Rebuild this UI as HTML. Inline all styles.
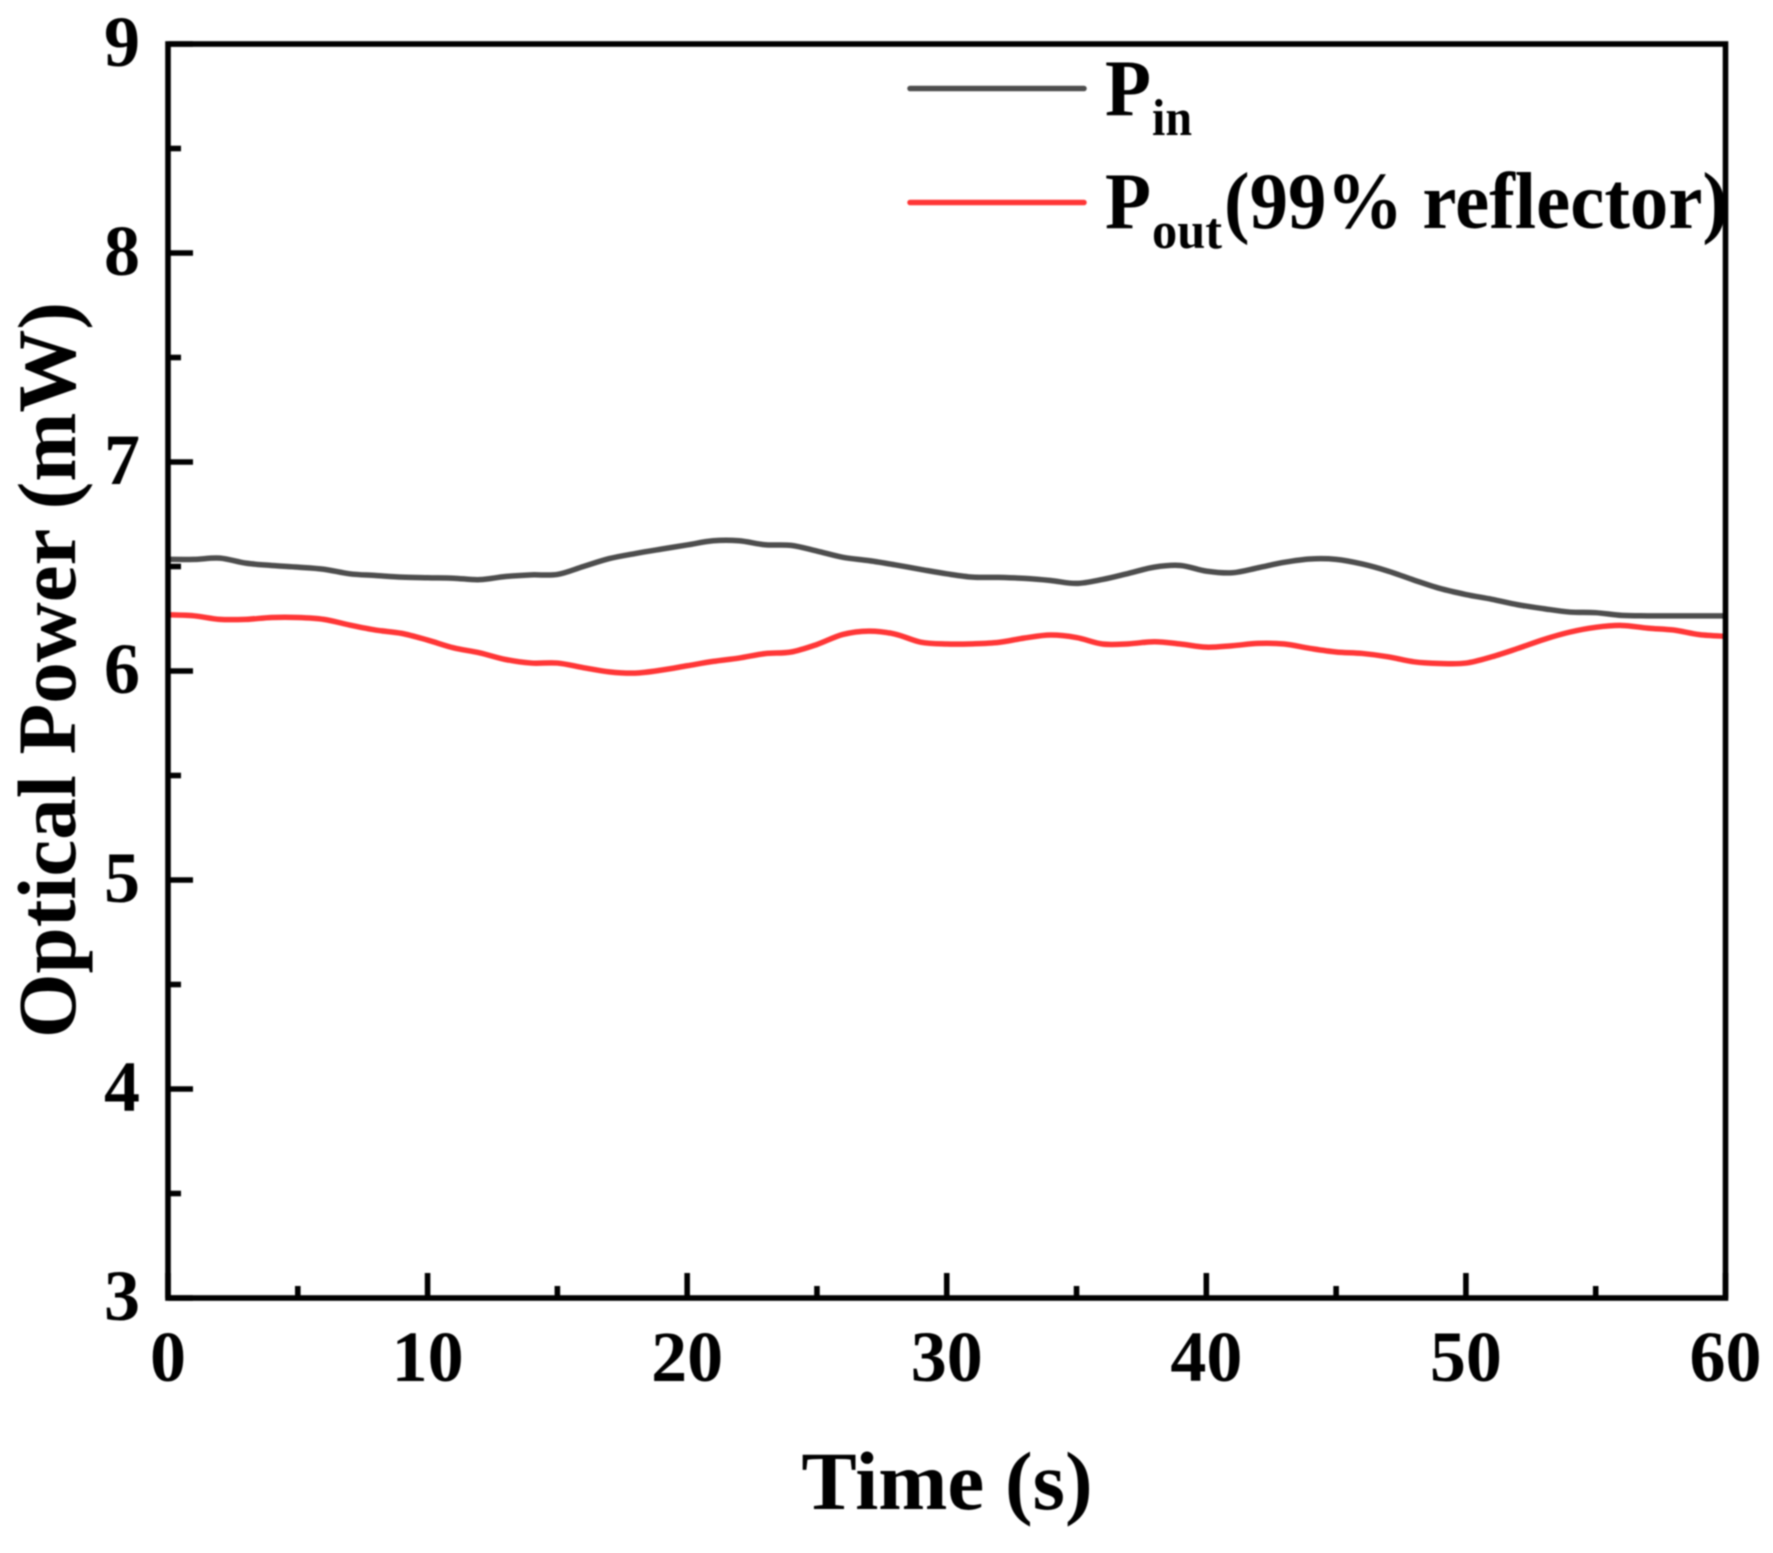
<!DOCTYPE html>
<html lang="en">
<head>
<meta charset="utf-8">
<title>Optical Power vs Time</title>
<style>
html,body{margin:0;padding:0;background:#fff;width:1773px;height:1553px;overflow:hidden}
svg{display:block;filter:blur(0.7px)}
text{font-family:"Liberation Serif","Times New Roman",serif;font-weight:bold;fill:#000}
</style>
</head>
<body>
<svg id="chart" xmlns="http://www.w3.org/2000/svg" width="1773" height="1553" viewBox="0 0 1773 1553">
  <rect x="0" y="0" width="1773" height="1553" fill="#fff"/>
  <g id="series"></g>
  <g id="ticks"></g>
  <rect x="168" y="44" width="1557.5" height="1254" fill="none" stroke="#000" stroke-width="5.6"/>
  <g id="labels"></g>
  <text x="947" y="1509" font-size="83" text-anchor="middle">Time (s)</text>
  <text x="75" y="670" font-size="83" text-anchor="middle" transform="rotate(-90 75 670)">Optical Power (mW)</text>
  <g>
    <line x1="910" y1="88.5" x2="1084" y2="88.5" stroke="#4d4d4d" stroke-width="5.5" stroke-linecap="round"/>
    <text x="1105" y="115" font-size="80" textLength="46" lengthAdjust="spacingAndGlyphs">P</text>
    <text x="1152" y="135" font-size="52" textLength="40" lengthAdjust="spacingAndGlyphs">in</text>
    <line x1="910" y1="202.5" x2="1084" y2="202.5" stroke="#ff3636" stroke-width="5.5" stroke-linecap="round"/>
    <text x="1105" y="228" font-size="80" textLength="46" lengthAdjust="spacingAndGlyphs">P</text>
    <text x="1152" y="248" font-size="52" textLength="70" lengthAdjust="spacingAndGlyphs">out</text>
    <text x="1224" y="228" font-size="80" textLength="504" lengthAdjust="spacingAndGlyphs">(99% reflector)</text>
  </g>
</svg>
<script>
const timeSeconds = [0,1,2,3,4,5,6,7,8,9,10,11,12,13,14,15,16,17,18,19,20,21,22,23,24,25,26,27,28,29,30,31,32,33,34,35,36,37,38,39,40,41,42,43,44,45,46,47,48,49,50,51,52,53,54,55,56,57,58,59,60];
const pinValues = [6.534,6.534,6.54,6.516,6.505,6.497,6.487,6.465,6.457,6.449,6.446,6.444,6.437,6.452,6.46,6.462,6.5,6.538,6.562,6.583,6.603,6.623,6.623,6.604,6.601,6.574,6.544,6.528,6.508,6.486,6.465,6.449,6.448,6.443,6.433,6.419,6.438,6.467,6.497,6.505,6.478,6.47,6.494,6.52,6.536,6.534,6.512,6.478,6.435,6.395,6.366,6.343,6.317,6.298,6.282,6.279,6.266,6.264,6.264,6.264,6.264];
const poutValues = [6.269,6.264,6.247,6.247,6.256,6.256,6.247,6.22,6.196,6.18,6.148,6.111,6.087,6.055,6.038,6.038,6.016,5.996,5.99,6.004,6.025,6.046,6.062,6.083,6.091,6.127,6.175,6.191,6.177,6.138,6.129,6.13,6.137,6.158,6.172,6.16,6.129,6.13,6.14,6.129,6.114,6.121,6.132,6.129,6.108,6.091,6.084,6.068,6.044,6.036,6.038,6.068,6.108,6.151,6.186,6.209,6.218,6.205,6.196,6.174,6.166];
const xMajorTicks = [0,10,20,30,40,50,60];
const xMinorTicks = [5,15,25,35,45,55];
const yMajorTicks = [3,4,5,6,7,8,9];
const yMinorTicks = [3.5,4.5,5.5,6.5,7.5,8.5];

const SVG_NS = 'http://www.w3.org/2000/svg';
const plot = {left:168, right:1725.5, top:44, bottom:1298};
const domain = {xMin:0, xMax:60, yMin:3, yMax:9};
function xScale(v){ return plot.left + (v - domain.xMin) / (domain.xMax - domain.xMin) * (plot.right - plot.left); }
function yScale(v){ return plot.bottom - (v - domain.yMin) / (domain.yMax - domain.yMin) * (plot.bottom - plot.top); }

const seriesLayer = document.getElementById('series');
const ticksLayer = document.getElementById('ticks');
const labelsLayer = document.getElementById('labels');

function smoothPath(values){
  const pts = timeSeconds.map(function(t, i){ return [xScale(t), yScale(values[i])]; });
  let d = 'M' + pts[0][0].toFixed(2) + ' ' + pts[0][1].toFixed(2);
  for (let i = 0; i < pts.length - 1; i++) {
    const p0 = pts[Math.max(i - 1, 0)];
    const p1 = pts[i];
    const p2 = pts[i + 1];
    const p3 = pts[Math.min(i + 2, pts.length - 1)];
    const c1x = p1[0] + (p2[0] - p0[0]) / 6;
    const c1y = p1[1] + (p2[1] - p0[1]) / 6;
    const c2x = p2[0] - (p3[0] - p1[0]) / 6;
    const c2y = p2[1] - (p3[1] - p1[1]) / 6;
    d += 'C' + c1x.toFixed(2) + ' ' + c1y.toFixed(2) + ' ' + c2x.toFixed(2) + ' ' + c2y.toFixed(2) + ' ' + p2[0].toFixed(2) + ' ' + p2[1].toFixed(2);
  }
  return d;
}
function styleSeries(el, values, color){
  el.setAttribute('d', smoothPath(values));
  el.setAttribute('fill', 'none');
  el.setAttribute('stroke', color);
  el.setAttribute('stroke-width', '5.5');
  el.setAttribute('stroke-linejoin', 'round');
  seriesLayer.appendChild(el);
}
const pinLine = document.createElementNS(SVG_NS, 'path');


styleSeries(pinLine, pinValues, '#4d4d4d');

const poutLine = document.createElementNS(SVG_NS, 'path');


styleSeries(poutLine, poutValues, '#ff3636');

function placeTick(el, x1, y1, x2, y2, width){
  el.setAttribute('x1', x1);
  el.setAttribute('y1', y1);
  el.setAttribute('x2', x2);
  el.setAttribute('y2', y2);
  el.setAttribute('stroke', '#000');
  el.setAttribute('stroke-width', width);
  ticksLayer.appendChild(el);
}
xMajorTicks.forEach(function(v){
  const tick = document.createElementNS(SVG_NS, 'line');
  
  
  placeTick(tick, xScale(v), plot.bottom, xScale(v), plot.bottom - 25, 5.6);
  const label = document.createElementNS(SVG_NS, 'text');
  
  
  label.setAttribute('x', xScale(v));
  label.setAttribute('y', 1381);
  label.setAttribute('font-size', '72');
  label.setAttribute('text-anchor', 'middle');
  label.textContent = String(v);
  labelsLayer.appendChild(label);
});
xMinorTicks.forEach(function(v){
  const tick = document.createElementNS(SVG_NS, 'line');
  
  
  placeTick(tick, xScale(v), plot.bottom, xScale(v), plot.bottom - 12, 5.6);
});
yMajorTicks.forEach(function(v){
  const tick = document.createElementNS(SVG_NS, 'line');
  
  
  placeTick(tick, plot.left, yScale(v), plot.left + 25, yScale(v), 5.6);
  const label = document.createElementNS(SVG_NS, 'text');
  
  
  label.setAttribute('x', 140);
  label.setAttribute('y', yScale(v) + 22);
  label.setAttribute('font-size', '72');
  label.setAttribute('text-anchor', 'end');
  label.textContent = String(v);
  labelsLayer.appendChild(label);
});
yMinorTicks.forEach(function(v){
  const tick = document.createElementNS(SVG_NS, 'line');
  
  
  placeTick(tick, plot.left, yScale(v), plot.left + 13, yScale(v), 5.6);
});
</script>
</body>
</html>
